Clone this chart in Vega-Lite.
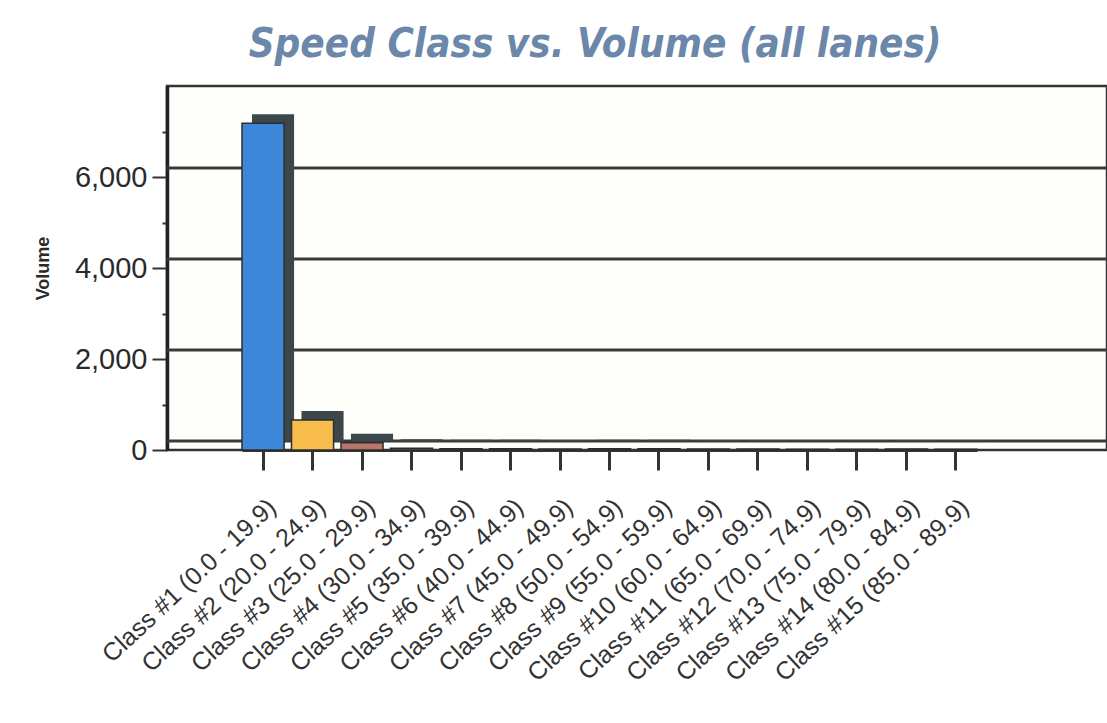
{
  "$schema": "https://vega.github.io/schema/vega-lite/v6.json",
  "width": 940,
  "height": 364,
  "autosize": {"type": "none"},
  "padding": {"left": 167, "top": 86, "right": 0, "bottom": 273},
  "background": "white",
  "config": {
    "view": {"stroke": "#333333", "strokeWidth": 2.5, "fill": "#fefefb"},
    "font": "Liberation Sans"
  },
  "title": {
    "text": "Speed Class vs. Volume (all lanes)",
    "font": "DejaVu Sans Condensed, Liberation Sans",
    "fontSize": 40,
    "fontStyle": "italic",
    "fontWeight": "bold",
    "color": "#6b87aa",
    "anchor": "middle",
    "dx": -42,
    "offset": 21
  },
  "datasets": {
    "speed": [
      {"speed_class": "Class #1 (0.0 - 19.9)", "volume": 7180},
      {"speed_class": "Class #2 (20.0 - 24.9)", "volume": 660},
      {"speed_class": "Class #3 (25.0 - 29.9)", "volume": 160},
      {"speed_class": "Class #4 (30.0 - 34.9)", "volume": 40},
      {"speed_class": "Class #5 (35.0 - 39.9)", "volume": 30},
      {"speed_class": "Class #6 (40.0 - 44.9)", "volume": 25},
      {"speed_class": "Class #7 (45.0 - 49.9)", "volume": 20},
      {"speed_class": "Class #8 (50.0 - 54.9)", "volume": 25},
      {"speed_class": "Class #9 (55.0 - 59.9)", "volume": 25},
      {"speed_class": "Class #10 (60.0 - 64.9)", "volume": 20},
      {"speed_class": "Class #11 (65.0 - 69.9)", "volume": 20},
      {"speed_class": "Class #12 (70.0 - 74.9)", "volume": 15},
      {"speed_class": "Class #13 (75.0 - 79.9)", "volume": 15},
      {"speed_class": "Class #14 (80.0 - 84.9)", "volume": 20},
      {"speed_class": "Class #15 (85.0 - 89.9)", "volume": 15}
    ],
    "walls": [
      {"level": 0},
      {"level": 2000},
      {"level": 4000},
      {"level": 6000}
    ]
  },
  "layer": [
    {
      "data": {"name": "walls"},
      "mark": {"type": "rule", "color": "#3a3a3a", "strokeWidth": 3, "xOffset": 13, "yOffset": -9},
      "encoding": {
        "y": {"field": "level", "type": "quantitative", "title": "Volume", "scale": {"domain": [0, 8000]}}
      }
    },
    {
      "data": {"name": "speed"},
      "mark": {"type": "bar", "color": "#3c474c", "xOffset": 10, "yOffset": -9},
      "encoding": {
        "x": {"field": "speed_class", "type": "nominal", "sort": null, "title": null},
        "y": {"field": "volume", "type": "quantitative", "title": "Volume"}
      }
    },
    {
      "data": {"name": "speed"},
      "mark": {"type": "bar", "stroke": "#2e2e2e", "strokeWidth": 1.5},
      "encoding": {
        "x": {
          "field": "speed_class",
          "type": "nominal",
          "sort": null,
          "title": null,
          "scale": {"range": [75, 810], "paddingInner": 0.15, "paddingOuter": 0},
          "axis": {
            "labelAngle": -43,
            "labelAlign": "right",
            "labelBaseline": "middle",
            "labelFontSize": 25,
            "labelColor": "#333333",
            "labelLimit": 0,
            "labelPadding": 33,
            "labelOffset": 9,
            "tickSize": 20,
            "tickWidth": 3,
            "tickColor": "#333333",
            "domainColor": "#333333",
            "domainWidth": 3
          }
        },
        "y": {
          "field": "volume",
          "type": "quantitative",
          "title": "Volume",
          "scale": {"domain": [0, 8000]},
          "axis": {
            "values": [0, 500, 1000, 1500, 2000, 2500, 3000, 3500, 4000, 4500, 5000, 5500, 6000, 6500, 7000, 7500],
            "labelExpr": "datum.value % 2000 === 0 ? format(datum.value, ',') : ''",
            "grid": false,
            "labelFontSize": 29,
            "labelColor": "#2a2a2a",
            "labelPadding": 5,
            "tickSize": {"condition": {"test": "datum.value % 2000 === 0", "value": 15}, "value": 5},
            "tickWidth": 2,
            "tickColor": "#333333",
            "domainColor": "#222222",
            "domainWidth": 3.5,
            "titleFontSize": 18,
            "titleFontWeight": "bold",
            "titleColor": "#2a2a2a",
            "titlePadding": 22
          }
        },
        "color": {
          "field": "speed_class",
          "type": "nominal",
          "sort": null,
          "legend": null,
          "scale": {
            "range": ["#3d86d8", "#f8bc4c", "#b8756a", "#3f8f80", "#4e5c5c", "#6f6a80", "#66745a", "#c8c860", "#40a0a0", "#5e6868", "#b8c860", "#8898a0", "#5878a8", "#d8a070", "#d07888"]
          }
        }
      }
    }
  ]
}
